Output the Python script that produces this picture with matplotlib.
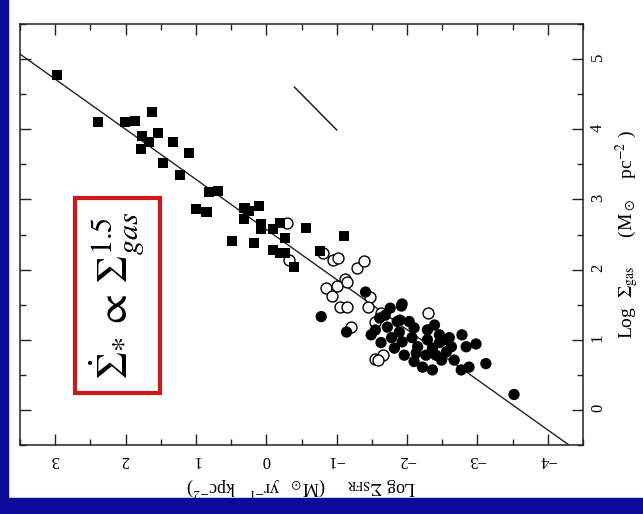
import matplotlib
matplotlib.use("Agg")
import matplotlib.pyplot as plt
from matplotlib.patches import Rectangle
from matplotlib.ticker import MultipleLocator

plt.rcParams['font.family'] = ['Liberation Serif', 'DejaVu Serif']
plt.rcParams['mathtext.fontset'] = 'stix'

# ---- data: (log Sigma_SFR, log Sigma_gas) ----
starburst_sfr = [2.97, 2.39, 2.01, 1.87, 1.63, 1.77, 1.54, 1.67, 1.78, 1.32, 1.10, 1.47,
                 1.23, 0.82, 0.68, 1.00, 0.85, 0.31, 0.25, 0.11, 0.32, 0.08, 0.07, -0.09,
                 -0.19, -0.57, -0.27, 0.49, 0.17, -0.09, -0.19, -0.27, -0.40, -1.10, -0.76]
starburst_gas = [4.77, 4.10, 4.10, 4.12, 4.25, 3.90, 3.95, 3.82, 3.72, 3.82, 3.66, 3.52,
                 3.35, 3.11, 3.12, 2.86, 2.82, 2.88, 2.84, 2.91, 2.72, 2.65, 2.58, 2.58,
                 2.67, 2.59, 2.45, 2.41, 2.38, 2.28, 2.24, 2.24, 2.04, 2.48, 2.27]

center_sfr = [-0.29, -0.32, -0.80, -0.95, -1.02, -1.29, -1.39, -1.12, -1.15, -0.85, -1.00,
              -0.94, -1.04, -1.15, -1.48, -1.44, -1.63, -1.54, -1.21, -2.30, -1.55, -1.66, -1.59]
center_gas = [2.67, 2.14, 2.24, 2.14, 2.17, 2.02, 2.12, 1.87, 1.82, 1.74, 1.77,
              1.63, 1.47, 1.47, 1.61, 1.47, 1.38, 1.26, 1.18, 1.38, 0.73, 0.78, 0.71]

disk_sfr = [-0.78, -1.14, -1.41, -1.76, -1.92, -1.69, -1.86, -1.72, -1.49, -1.63, -1.89, -2.10,
            -1.93, -2.07, -2.15, -2.29, -2.46, -2.29, -2.13, -2.27, -2.36, -2.46, -2.56, -2.63,
            -2.10, -2.22, -2.36, -2.49, -2.41, -2.78, -2.84, -2.98, -2.77, -2.88, -3.12, -3.52,
            -1.90, -2.03, -1.61, -1.78, -1.96, -2.60, -2.67, -2.39, -2.53, -1.55, -1.82, -1.93]
disk_gas = [1.33, 1.11, 1.68, 1.45, 1.48, 1.35, 1.26, 1.18, 1.07, 0.96, 1.11, 1.17,
            0.97, 1.03, 0.90, 1.14, 1.07, 1.00, 0.81, 0.78, 0.88, 0.96, 0.83, 0.90,
            0.69, 0.61, 0.57, 0.71, 0.78, 1.07, 0.90, 0.94, 0.57, 0.61, 0.66, 0.22,
            1.28, 1.26, 1.31, 1.03, 0.78, 1.03, 0.71, 1.21, 1.00, 1.14, 0.88, 1.51]

fit_gas = [-0.5, 5.5]
fit_sfr = [-4.3, 4.1]
seg_sfr = [-0.40, -1.00]
seg_gas = [4.60, 3.99]

x_ticks = [3, 2, 1, 0, -1, -2, -3, -4]
x_ticklabels = ['3', '2', '1', '0', '\u22121', '\u22122', '\u22123', '\u22124']
y_ticks = [0, 1, 2, 3, 4, 5]
y_ticklabels = ['0', '1', '2', '3', '4', '5']

W, H = 643, 514
fig = plt.figure(figsize=(W / 100, H / 100), dpi=100)
fig.patch.set_facecolor('white')
blue = '#0b0b98'
fig.patches.append(Rectangle((0, 0), 8 / W, 1, transform=fig.transFigure, color=blue, zorder=0))
fig.patches.append(Rectangle((0, 0), 1, 16 / H, transform=fig.transFigure, color=blue, zorder=0))

ax = fig.add_axes([20 / W, 1 - 445 / H, 563 / W, 421 / H])
ax.set_xlim(3.5, -4.5)
ax.set_ylim(-0.5, 5.5)

ax.plot(fit_sfr, fit_gas, color='#222222', lw=1.0, zorder=1)
ax.plot(seg_sfr, seg_gas, color='#222222', lw=1.1, zorder=1)

ax.scatter(starburst_sfr, starburst_gas, marker='s', s=52, c='black', edgecolors='none', zorder=3)
ax.scatter(center_sfr, center_gas, marker='o', s=62, facecolors='white', edgecolors='black',
           linewidths=1.0, zorder=2)
ax.scatter(disk_sfr, disk_gas, marker='o', s=66, c='black', edgecolors='none', zorder=4)

ax.set_xticks(x_ticks)
ax.set_xticklabels(x_ticklabels, rotation=180, fontsize=12)
ax.set_yticks(y_ticks)
ax.set_yticklabels(y_ticklabels, rotation=90, fontsize=12)
ax.xaxis.set_minor_locator(MultipleLocator(0.5))
ax.yaxis.set_minor_locator(MultipleLocator(0.5))
ax.tick_params(which='both', direction='in', top=True, bottom=True, left=True, right=True,
               labelleft=False, labelright=True, width=1.0, color='#222222')
ax.tick_params(which='major', length=8)
ax.tick_params(which='minor', length=4.5)
ax.tick_params(axis='x', pad=5)
ax.tick_params(axis='y', pad=5)
for s in ax.spines.values():
    s.set_linewidth(1.1)
    s.set_color('#222222')

ax.set_xlabel(r'Log $\Sigma_{\rm SFR}$     (M$_\odot$  yr$^{-1}$   kpc$^{-2}$)', rotation=180,
              fontsize=13, labelpad=5)
ax.yaxis.set_label_position('right')
ax.set_ylabel(r'Log  $\Sigma_{\rm gas}$      (M$_\odot$    pc$^{-2}$ )', rotation=90,
              fontsize=14, labelpad=5)

ax.add_patch(Rectangle((0.098, 0.124), 0.151, 0.463, transform=ax.transAxes, fill=False,
                       edgecolor='#cc1818', lw=3.0, zorder=5))
ax.text(0.173, 0.355, r'$\dot{\Sigma}_{*} \/\propto\/ \Sigma_{gas}^{1.5}$', transform=ax.transAxes,
        rotation=90, fontsize=31, ha='center', va='center', zorder=6)

fig.savefig('out.png', dpi=100, facecolor=fig.get_facecolor())
